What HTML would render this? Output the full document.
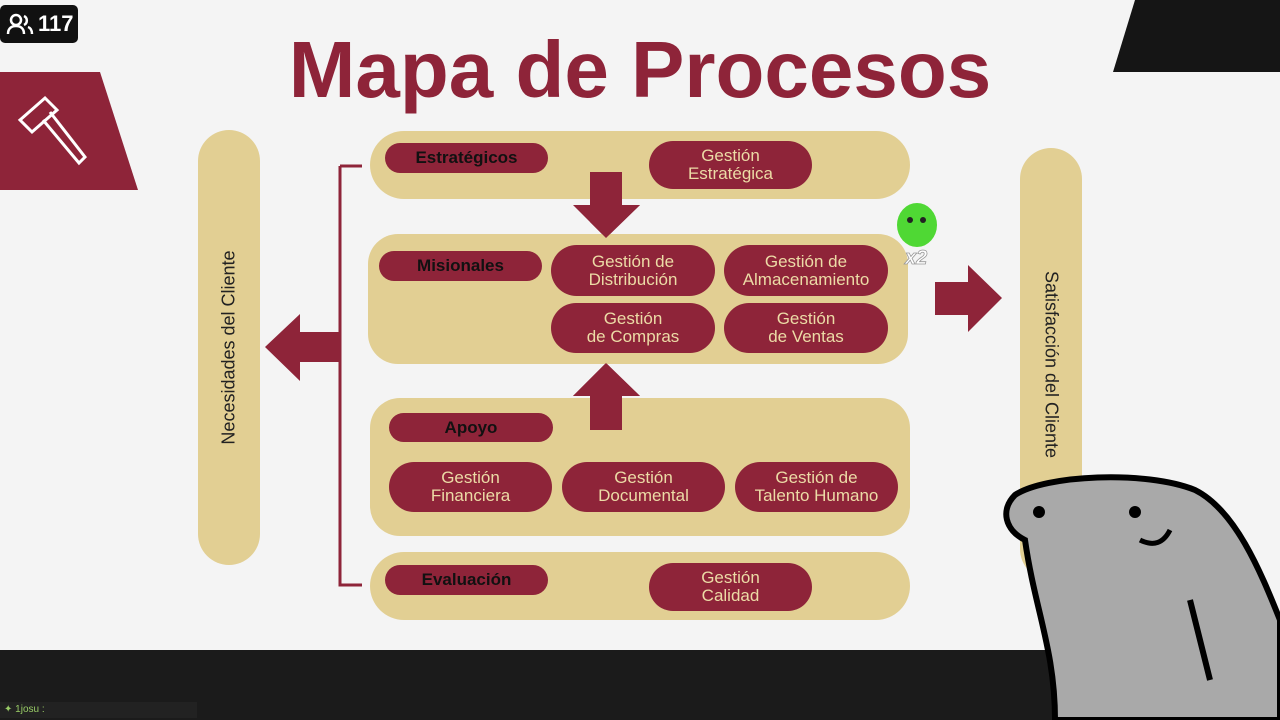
<!DOCTYPE html>
<html><head><meta charset="utf-8"><style>
*{margin:0;padding:0;box-sizing:border-box}
body{width:1280px;height:720px;background:#f4f4f4;position:relative;overflow:hidden;font-family:"Liberation Sans",sans-serif}
.a{position:absolute}
.bg{background:#e2cf93}
.p{position:absolute;background:#8e2439;color:#ecdba6;border-radius:26px;display:flex;align-items:center;justify-content:center;text-align:center;font-size:17px;line-height:18px}
.l{position:absolute;background:#8e2439;color:#111;border-radius:16px;display:flex;align-items:center;justify-content:center;font-weight:bold;font-size:17px}
</style></head><body>
<div class="a" style="left:0;top:5px;width:78px;height:38px;background:#111;border-radius:5px;color:#fff;font-weight:bold;font-size:22px;line-height:38px;padding-left:38px">117</div>
<svg class="a" style="left:6px;top:12px" width="28" height="24"><circle cx="10" cy="8" r="5" fill="none" stroke="#fff" stroke-width="2.5"/><path d="M2 22c0-6 4-8 8-8s8 2 8 8" fill="none" stroke="#fff" stroke-width="2.5"/><path d="M18 4a5 5 0 0 1 0 9M22 15c3 1 4 4 4 7" fill="none" stroke="#fff" stroke-width="2.5"/></svg>
<div class="a" style="left:0;top:30px;width:1280px;text-align:center;font-size:80px;font-weight:bold;color:#8e2439;line-height:80px">Mapa de Procesos</div>
<svg class="a" style="left:0;top:0" width="1280" height="720">
<polygon points="1135,0 1280,0 1280,72 1113,72" fill="#151515"/>
<polygon points="0,72 100,72 138,190 0,190" fill="#8e2439"/>
<g stroke="#fff" stroke-width="3" fill="none"><path d="M20 120l25-22 12 12-25 22z"/><path d="M50 112l35 45 -6 6-36-43"/></g>
<path d="M340 166H362M340 166V585H362" stroke="#8e2439" stroke-width="3" fill="none"/>
<polygon points="265,347 300,314 300,332 340,332 340,362 300,362 300,381" fill="#8e2439"/>
<polygon points="935,282 968,282 968,265 1002,298 968,332 968,315 935,315" fill="#8e2439"/>
<polygon points="590,172 622,172 622,205 640,205 606,238 573,205 590,205" fill="#8e2439"/>
<polygon points="606,363 640,396 622,396 622,430 590,430 590,396 573,396" fill="#8e2439"/>
</svg>
<div class="a bg" style="left:198px;top:130px;width:62px;height:435px;border-radius:31px"></div>
<div class="a" style="left:229px;top:347px;width:0;height:0"><div style="position:absolute;width:300px;left:-150px;top:-10px;text-align:center;transform:rotate(-90deg);font-size:18px;color:#222">Necesidades del Cliente</div></div>
<div class="a bg" style="left:1020px;top:148px;width:62px;height:432px;border-radius:31px"></div>
<div class="a" style="left:1051px;top:364px;width:0;height:0"><div style="position:absolute;width:300px;left:-150px;top:-10px;text-align:center;transform:rotate(90deg);font-size:18px;color:#222">Satisfacción del Cliente</div></div>
<div class="a bg" style="left:370px;top:131px;width:540px;height:68px;border-radius:34px"></div>
<div class="l" style="left:385px;top:143px;width:163px;height:30px">Estratégicos</div>
<div class="p" style="left:649px;top:141px;width:163px;height:48px">Gestión<br>Estratégica</div>
<div class="a bg" style="left:368px;top:234px;width:540px;height:130px;border-radius:30px"></div>
<div class="l" style="left:379px;top:251px;width:163px;height:30px">Misionales</div>
<div class="p" style="left:551px;top:245px;width:164px;height:51px">Gestión de<br>Distribución</div>
<div class="p" style="left:724px;top:245px;width:164px;height:51px">Gestión de<br>Almacenamiento</div>
<div class="p" style="left:551px;top:303px;width:164px;height:50px">Gestión<br>de Compras</div>
<div class="p" style="left:724px;top:303px;width:164px;height:50px">Gestión<br>de Ventas</div>
<svg class="a" style="left:590px;top:172px" width="50" height="260"><polygon points="0,0 32,0 32,33 50,33 16,66 -17,33 0,33" fill="#8e2439"/></svg>
<div class="a bg" style="left:370px;top:398px;width:540px;height:138px;border-radius:30px"></div>
<svg class="a" style="left:573px;top:363px" width="68" height="68"><polygon points="33,0 67,33 49,33 49,67 17,67 17,33 0,33" fill="#8e2439"/></svg>
<div class="l" style="left:389px;top:413px;width:164px;height:29px">Apoyo</div>
<div class="p" style="left:389px;top:462px;width:163px;height:50px">Gestión<br>Financiera</div>
<div class="p" style="left:562px;top:462px;width:163px;height:50px">Gestión<br>Documental</div>
<div class="p" style="left:735px;top:462px;width:163px;height:50px">Gestión de<br>Talento Humano</div>
<div class="a bg" style="left:370px;top:552px;width:540px;height:68px;border-radius:34px"></div>
<div class="l" style="left:385px;top:565px;width:163px;height:30px">Evaluación</div>
<div class="p" style="left:649px;top:563px;width:163px;height:48px">Gestión<br>Calidad</div>
<svg class="a" style="left:895px;top:200px" width="50" height="70"><ellipse cx="22" cy="25" rx="20" ry="22" fill="#4fd834"/><circle cx="15" cy="20" r="3" fill="#222"/><circle cx="28" cy="20" r="3" fill="#222"/><text x="10" y="64" font-size="20" font-weight="bold" fill="#fff" stroke="#999" stroke-width="0.8" font-style="italic">x2</text></svg>
<div class="a" style="left:0;top:650px;width:1280px;height:70px;background:#1b1b1b"></div>
<div class="a" style="left:0;top:702px;width:197px;height:16px;background:#222;color:#9c6;font-size:10px;line-height:16px;padding-left:4px">✦ 1josu : </div>
<svg class="a" style="left:995px;top:470px" width="285" height="250"><path d="M60 250C60 180 40 140 30 70 10 60 5 40 20 25 50 5 150 0 200 20 240 40 265 100 285 150V250Z" fill="#a9a9a9" stroke="#000" stroke-width="6"/><circle cx="44" cy="42" r="6" fill="#000"/><circle cx="140" cy="42" r="6" fill="#000"/><path d="M145 70q20 10 30-10" stroke="#000" stroke-width="5" fill="none"/><path d="M195 130l20 80" stroke="#000" stroke-width="6" fill="none"/></svg>
</body></html>
